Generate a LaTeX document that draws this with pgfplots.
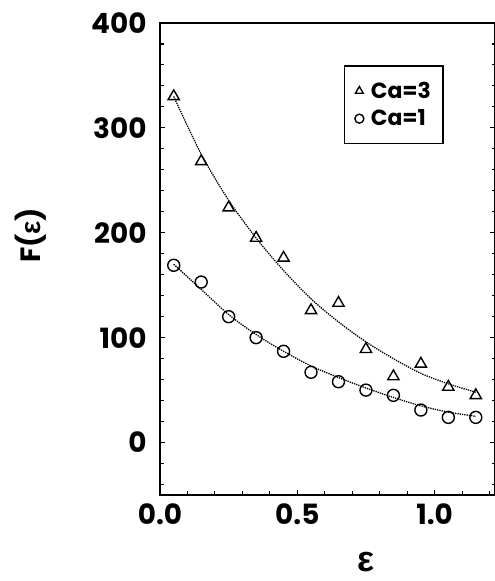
\documentclass[border=0pt]{standalone}
\usepackage{fontspec}
\setmainfont{Poppins}
\newfontfamily\grk{Liberation Sans}
\usepackage{pgfplots}
\pgfplotsset{compat=1.18}
\begin{document}
\begin{tikzpicture}[x=1bp,y=1bp]
\useasboundingbox (0,0) rectangle (495,581);
\begin{axis}[
  at={(160bp,86bp)}, anchor=south west,
  scale only axis, width=335bp, height=472bp,
  xmin=0, xmax=1.22, ymin=-50, ymax=400,
  xtick={0,0.5,1}, xticklabels={0.0,0.5,1.0},
  minor xtick={0.1,0.2,0.3,0.4,0.6,0.7,0.8,0.9,1.1,1.2},
  ytick={0,100,200,300,400},
  minor ytick={-40,-20,20,40,60,80,120,140,160,180,220,240,260,280,320,340,360,380},
  xtick pos=bottom, ytick pos=both,
  tick align=inside,
  major tick length=5bp, minor tick length=3.5bp,
  every tick/.style={black, line width=1.1bp},
  axis line style={line width=1.6bp},
  /pgf/number format/assume math mode=true,
  tick label style={font=\bfseries\fontsize{28}{28}\selectfont},
  xticklabel style={yshift=-5bp},
  yticklabel style={xshift=-10bp},
  xlabel={\grk\bfseries\fontsize{36}{36}\selectfont ε},
  xlabel style={at={(axis description cs:0.615,-0.142)}, anchor=center},
  ylabel={\bfseries\fontsize{28}{28}\selectfont F({\grk ε})},
  ylabel style={at={(axis description cs:-0.385,0.55)}, anchor=center},
  legend style={at={(rel axis cs:0.55,0.91)}, anchor=north west,
    draw=black, line width=1.2bp, font=\bfseries\fontsize{22}{22}\selectfont,
    inner xsep=10bp, inner ysep=14bp, row sep=6bp,
    /tikz/every odd column/.append style={column sep=5bp},
    legend cell align=left},
  legend image code/.code={\draw[mark repeat=2,mark phase=2, mark size=4.5bp] plot coordinates {(0cm,0cm) (0.3cm,0cm) (0.62cm,0cm)};},
]
\addplot[black, densely dotted, line width=1.3bp, smooth, forget plot] coordinates {
 (0.05,330) (0.15,275) (0.25,231) (0.35,195) (0.45,164) (0.55,137) (0.65,115) (0.75,96) (0.85,80) (0.95,66) (1.05,56) (1.15,48)};
\addplot[black, densely dotted, line width=1.3bp, smooth, forget plot] coordinates {
 (0.05,170) (0.15,146) (0.25,122) (0.35,103) (0.45,87) (0.55,73) (0.65,62) (0.75,52) (0.85,43) (0.95,35) (1.05,29) (1.15,25)};
\addplot[only marks, mark=triangle, mark size=6.5bp, mark options={line width=1.4bp, black}] coordinates {
 (0.05,330) (0.15,268) (0.25,224) (0.35,195) (0.45,176) (0.55,126) (0.65,133) (0.75,89) (0.85,63) (0.95,75) (1.05,53) (1.15,45)};
\addlegendentry{Ca=3}
\addplot[only marks, mark=o, mark size=6bp, mark options={line width=1.4bp, black}] coordinates {
 (0.05,169) (0.15,153) (0.25,120) (0.35,100) (0.45,87) (0.55,67) (0.65,58) (0.75,50) (0.85,45) (0.95,31) (1.05,24) (1.15,24)};
\addlegendentry{Ca=1}
\end{axis}
\end{tikzpicture}
\end{document}
